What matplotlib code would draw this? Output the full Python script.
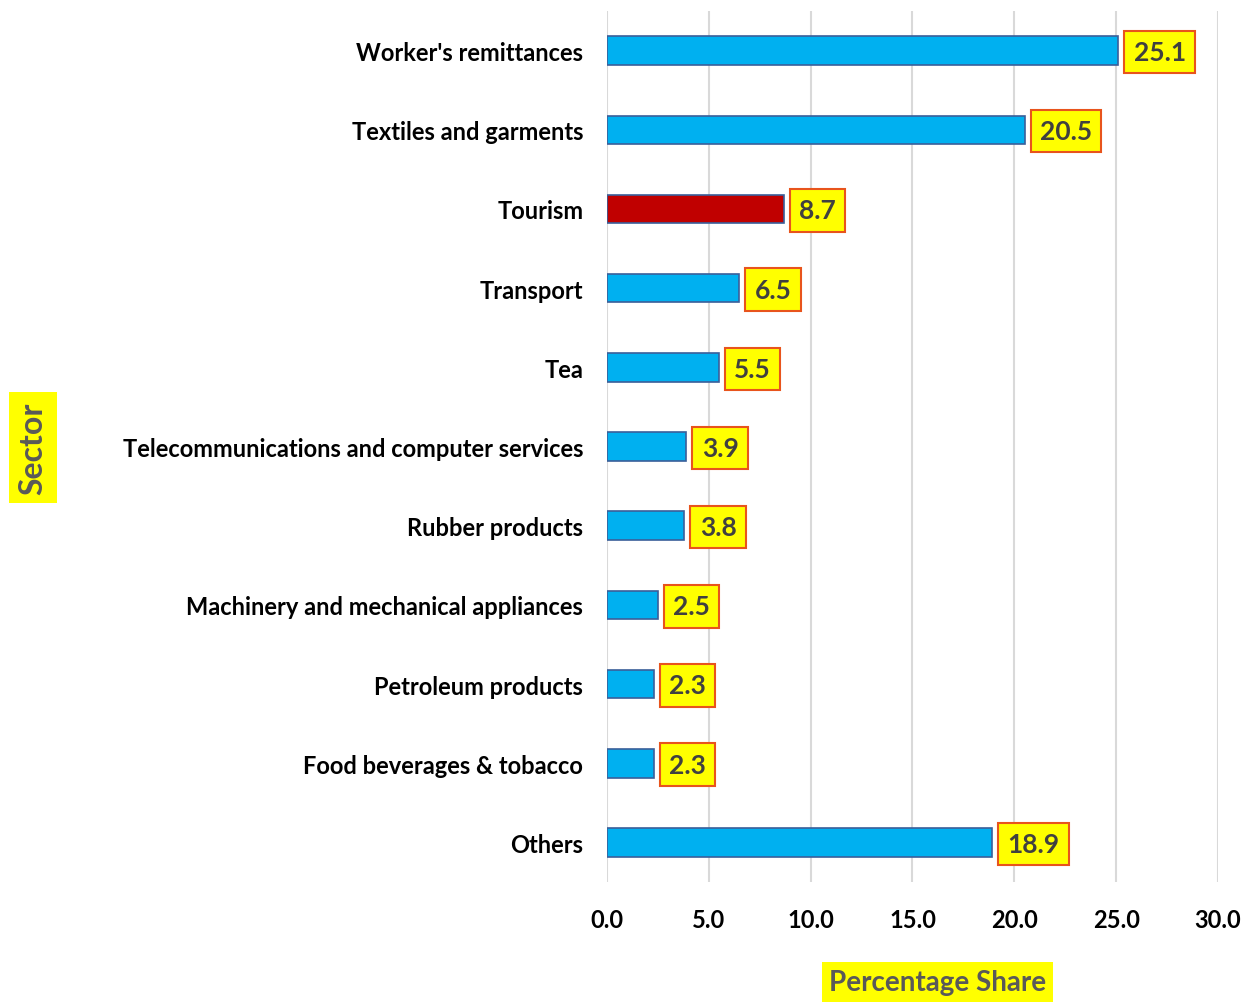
import matplotlib
matplotlib.use("Agg")
import matplotlib.pyplot as plt

sectors = ["Worker's remittances", "Textiles and garments", "Tourism", "Transport", "Tea",
           "Telecommunications and computer services", "Rubber products",
           "Machinery and mechanical appliances", "Petroleum products",
           "Food beverages & tobacco", "Others"]
shares = [25.1, 20.5, 8.7, 6.5, 5.5, 3.9, 3.8, 2.5, 2.3, 2.3, 18.9]
highlight = "Tourism"

plt.rcParams['font.family'] = ['Lato', 'DejaVu Sans']

fig = plt.figure(figsize=(12.53, 10.03), dpi=100)
ax = fig.add_axes([0.4844, 0.1196, 0.4877, 0.8684])

colors = ['#C00000' if s == highlight else '#00B0F0' for s in sectors]
y = list(range(len(sectors)))
ax.barh(y, shares, height=0.36, color=colors, edgecolor='#3A5F9A', linewidth=1.2, zorder=3)

for yi, v in zip(y, shares):
    ax.annotate(f"{v:.1f}", (v, yi), xytext=(11, -1), textcoords='offset points',
                ha='left', va='center', fontsize=19, fontweight='bold', color='#404040',
                bbox=dict(boxstyle='square,pad=0.35', facecolor='#FFFF00',
                          edgecolor='#E8541C', linewidth=1.5), zorder=4)

ax.set_xlim(0, 30)
ax.set_ylim(len(sectors) - 0.5, -0.5)
ax.set_xticks([0, 5, 10, 15, 20, 25, 30])
ax.set_xticklabels([f"{t:.1f}" for t in [0, 5, 10, 15, 20, 25, 30]])
ax.set_yticks(y)
ax.set_yticklabels(sectors)
ax.tick_params(axis='y', length=0, pad=17, labelsize=17)
ax.tick_params(axis='x', length=0, pad=19, labelsize=17)
for lbl in ax.get_xticklabels() + ax.get_yticklabels():
    lbl.set_fontweight('bold')

ax.grid(axis='x', color='#D9D9D9', linewidth=1.5, zorder=0)
for s in ax.spines.values():
    s.set_visible(False)

fig.text(0.0265, 0.553, "Sector", rotation=90, ha='center', va='center', fontsize=23,
         fontweight='bold', color='#595959',
         bbox=dict(boxstyle='square,pad=0.3', facecolor='#FFFF00', edgecolor='none'))
fig.text(0.748, 0.02, "Percentage Share", ha='center', va='center', fontsize=20,
         fontweight='bold', color='#595959',
         bbox=dict(boxstyle='square,pad=0.25', facecolor='#FFFF00', edgecolor='none'))

fig.savefig("out.png", dpi=100)
